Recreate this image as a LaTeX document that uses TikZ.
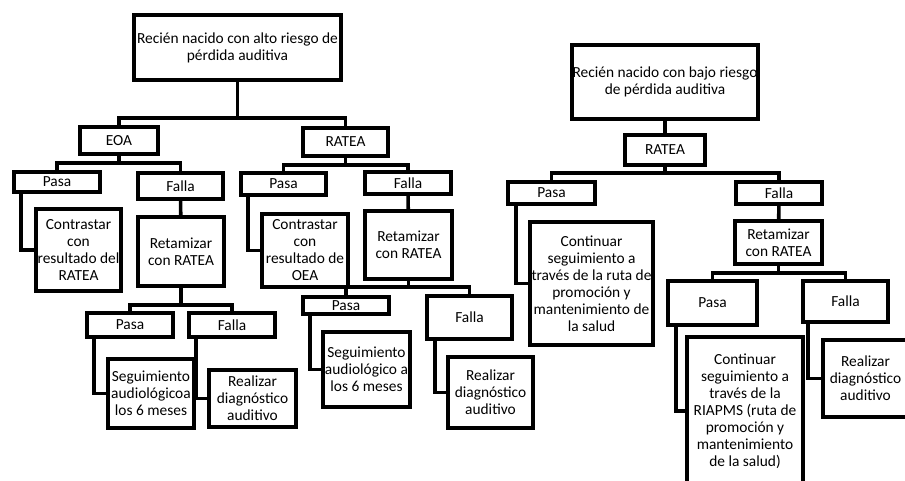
\documentclass[tikz,border=0pt]{standalone}
\usepackage{fontspec}
\setmainfont{Carlito}
\begin{document}
\begin{tikzpicture}[
	x=1pt, y=-1pt,
	caja/.style 2 args = {draw, line width=3.6pt, align=center, inner sep=0pt,
		minimum width=#1pt, minimum height=#2pt, font=\fontsize{15.4}{17}\selectfont},
	linea/.style = {line width=3.6pt}]

	\clip (0,0) rectangle (905,480);

	% alto riesgo
	\node[caja={207}{65}] (altoRiesgo) at (237.5,47.5) {Recién nacido con alto riesgo de\\pérdida auditiva};
	\node[caja={78}{27}] (eoa) at (119,140.5) {EOA};
	\node[caja={85}{28}] (rateaA) at (345.5,142) {RATEA};

	\node[caja={86}{20}] (pasaE) at (57,182) {Pasa};
	\node[caja={85}{26}] (fallaE) at (180.5,186) {Falla};
	\node[caja={85}{82}] (contrE) at (78.5,250) {Contrastar\\con\\resultado del\\RATEA};
	\node[caja={86}{69}] (retamE) at (181,251.5) {Retamizar\\con RATEA};
	\node[caja={86}{24}] (pasaE2) at (130,325) {Pasa};
	\node[caja={86}{24}] (fallaE2) at (232,325) {Falla};
	\node[caja={86}{69}] (seguE) at (151,393.5) {Seguimiento\\audiológicoa\\los 6 meses};
	\node[caja={87}{57}] (realE) at (252.5,398.5) {Realizar\\diagnóstico\\auditivo};

	\node[caja={85}{22}] (pasaR) at (283.5,184) {Pasa};
	\node[caja={86}{22}] (fallaR) at (408,183) {Falla};
	\node[caja={86}{73}] (contrR) at (305,250.5) {Contrastar\\con\\resultado de\\OEA};
	\node[caja={87}{68}] (retamR) at (408.5,245) {Retamizar\\con RATEA};
	\node[caja={86}{17}] (pasaR2) at (346,305.5) {Pasa};
	\node[caja={85}{43}] (fallaR2) at (469.5,317.5) {Falla};
	\node[caja={87}{75}] (seguR) at (366.5,369.5) {Seguimiento\\audiológico a\\los 6 meses};
	\node[caja={85}{71}] (realR) at (490.5,392.5) {Realizar\\diagnóstico\\auditivo};

	% bajo riesgo
	\node[caja={186}{74}] (bajoRiesgo) at (665,82) {Recién nacido con bajo riesgo\\de pérdida auditiva};
	\node[caja={80}{30}] (rateaB) at (665,150) {RATEA};
	\node[caja={87}{22}] (pasaB) at (551.5,193) {Pasa};
	\node[caja={86}{22}] (fallaB) at (779,193) {Falla};
	\node[caja={123}{123}] (contiB) at (591.5,283.5) {Continuar\\seguimiento a\\través de la ruta de\\promoción y\\mantenimiento de\\la salud};
	\node[caja={87}{43}] (retamB) at (778.5,242.5) {Retamizar\\con RATEA};
	\node[caja={89}{44}] (pasaB2) at (712.5,303) {Pasa};
	\node[caja={85}{41}] (fallaB2) at (845.5,301.5) {Falla};
	\node[caja={116}{148}] (contiB2) at (745,411) {Continuar\\seguimiento a\\través de la\\RIAPMS (ruta de\\promoción y\\mantenimiento\\de la salud)};
	\node[caja={85}{77}] (realB) at (865.5,378.5) {Realizar\\diagnóstico\\auditivo};

	% ramas
	\coordinate (jA) at (237.5,118);
	\draw[linea] (altoRiesgo) -- (jA);
	\draw[linea] (eoa) |- (jA) -| (rateaA);
	\draw[linea] (pasaE) |- (eoa.south |- 0,163) -| (fallaE);
	\draw[linea] (eoa) -- (eoa.south |- 0,163);
	\draw[linea] (fallaE) -- (retamE);
	\draw[linea] (pasaE2) |- (retamE.south |- 0,305) -| (fallaE2);
	\draw[linea] (retamE) -- (retamE.south |- 0,305);

	\draw[linea] (pasaR) |- (rateaA.south |- 0,165) -| (fallaR);
	\draw[linea] (rateaA) -- (rateaA.south |- 0,165);
	\draw[linea] (fallaR) -- (retamR);
	\draw[linea] (pasaR2) |- (retamR.south |- 0,287) -| (fallaR2);
	\draw[linea] (retamR) -- (retamR.south |- 0,287);

	\draw[linea] (bajoRiesgo) -- (rateaB);
	\draw[linea] (pasaB) |- (rateaB.south |- 0,173) -| (fallaB);
	\draw[linea] (rateaB) -- (rateaB.south |- 0,173);
	\draw[linea] (fallaB) -- (retamB);
	\draw[linea] (pasaB2) |- (retamB.south |- 0,273) -| (fallaB2);
	\draw[linea] (retamB) -- (retamB.south |- 0,273);

	% hojas
	\draw[linea] ([xshift=9pt]pasaE.south west) |- (contrE.west);
	\draw[linea] ([xshift=9pt]pasaR.south west) |- (contrR.west);
	\draw[linea] ([xshift=9pt]pasaE2.south west) |- (seguE.west);
	\draw[linea] ([xshift=9pt]fallaE2.south west) |- (realE.west);
	\draw[linea] ([xshift=9pt]pasaR2.south west) |- (seguR.west);
	\draw[linea] ([xshift=10pt]fallaR2.south west) |- (realR.west);
	\draw[linea] ([xshift=10pt]pasaB.south west) |- (contiB.west);
	\draw[linea] ([xshift=10pt]pasaB2.south west) |- (contiB2.west);
	\draw[linea] ([xshift=7pt]fallaB2.south west) |- (realB.west);
\end{tikzpicture}
\end{document}
